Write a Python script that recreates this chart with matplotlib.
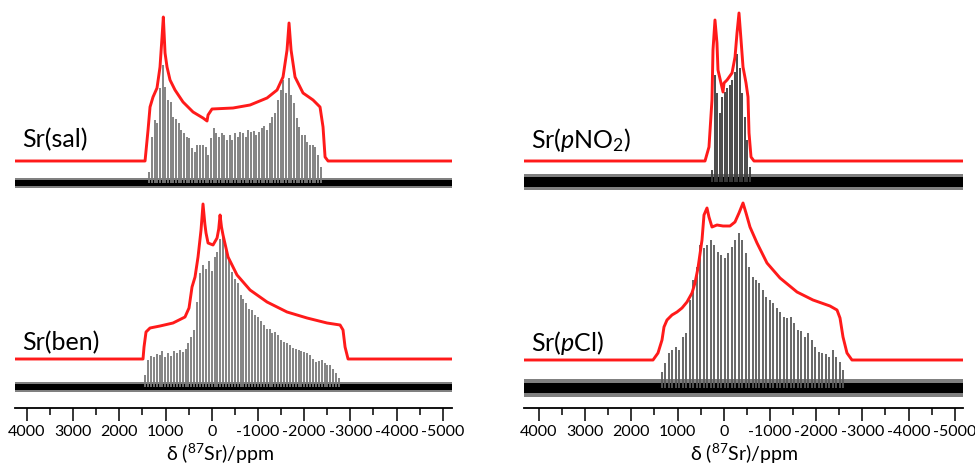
import matplotlib.pyplot as plt
import numpy as np

plt.rcParams['font.family'] = ['Lato', 'DejaVu Sans']
plt.rcParams['mathtext.fontset'] = 'custom'
plt.rcParams['mathtext.rm'] = 'Lato'
plt.rcParams['mathtext.it'] = 'Lato:italic'
plt.rcParams['axes.unicode_minus'] = False

# simulated lineshapes (shift in ppm, intensity)
sal_sim_ppm = [4260, 1445, 1380, 1337, 1272, 1186, 1121, 1077, 1049, 1012, 969, 904, 796,
               623, 406, 190, 103, 81, -5, -460, -828, -1196, -1413, -1542, -1629,
               -1672, -1716, -1802, -1975, -2192, -2343, -2408, -2452, -2517, -5200]
sal_sim_int = [0, 0, 31, 54, 64, 73, 94, 124, 144, 108, 94, 81, 71,
               59, 49, 43, 40, 46, 52, 53, 56, 63, 71, 84, 111,
               138, 111, 84, 68, 61, 54, 34, 4, 0, 0]

ben_sim_ppm = [4260, 1489, 1467, 1424, 1337, 1121, 839, 580, 493, 428, 363, 298, 233, 190,
               150, 125, 81, -27, -114, -150, -179, -210, -243, -352, -546, -828, -1196,
               -1629, -2062, -2495, -2777, -2841, -2885, -2950, -5200]
ben_sim_int = [0, 0, 12, 27, 31, 33, 36, 42, 51, 72, 82, 102, 129, 155,
               135, 126, 116, 114, 121, 130, 144, 132, 124, 102, 84, 69, 57,
               47, 41, 36, 34, 29, 12, 0, 0]

pno2_sim_ppm = [4320, 406, 320, 255, 233, 190, 147, 125, 60, 16, -6, -71, -179, -244,
                -287, -330, -374, -417, -482, -525, -547, -590, -655, -5180]
pno2_sim_int = [0, 0, 14, 61, 111, 141, 118, 91, 78, 69, 78, 81, 88, 104,
                128, 148, 121, 94, 78, 64, 28, 4, 0, 0]

pcl_sim_ppm = [4320, 1532, 1424, 1337, 1294, 1229, 1121, 1012, 904, 796, 688, 623, 558,
               471, 428, 363, 320, 255, 146, 16, -135, -243, -330, -417, -482, -568,
               -720, -936, -1218, -1586, -1932, -2300, -2452, -2517, -2582, -2668,
               -2776, -5180]
pcl_sim_int = [0, 0, 7, 20, 33, 40, 45, 48, 52, 58, 67, 77, 92,
               120, 145, 152, 143, 133, 135, 134, 134, 138, 147, 157, 147, 133,
               117, 97, 82, 68, 60, 54, 50, 42, 23, 7,
               0, 0]

# experimental spikelets: first / last spikelet shift and spikelet heights
sal_spk_range = (1353, -2357)
sal_spk_int = [11, 46, 63, 60, 95, 118, 96, 83, 81, 66, 64, 60, 53, 50, 46, 45, 35, 31,
               38, 38, 38, 36, 28, 45, 55, 50, 46, 50, 48, 43, 48, 43, 50, 46, 51, 50,
               46, 53, 51, 52, 48, 51, 55, 57, 53, 60, 66, 70, 83, 93, 103, 90, 105, 88,
               80, 65, 56, 48, 48, 41, 38, 38, 36, 28, 16]

ben_spk_range = (1445, -2755)
ben_spk_int = [12, 27, 31, 30, 33, 32, 36, 30, 34, 31, 36, 34, 37, 35, 38, 44, 50, 57,
               85, 114, 122, 118, 126, 116, 130, 135, 148, 152, 138, 128, 115, 108, 104,
               92, 88, 84, 78, 77, 72, 70, 66, 62, 58, 58, 54, 55, 52, 47, 45, 44, 42,
               39, 38, 37, 36, 35, 34, 32, 28, 25, 26, 27, 24, 22, 22, 18, 14, 9]

pno2_spk_range = (255, -568)
pno2_spk_int = [12, 107, 89, 69, 85, 90, 94, 97, 102, 110, 128, 114, 89, 65, 42, 15]

pcl_spk_range = (1337, -2582)
pcl_spk_int = [16, 25, 35, 38, 41, 38, 51, 55, 88, 108, 121, 143, 140, 143, 148, 143,
               136, 133, 130, 135, 141, 148, 155, 148, 135, 121, 111, 108, 105, 98, 91,
               88, 85, 80, 76, 71, 70, 71, 65, 58, 57, 51, 55, 48, 41, 36, 35, 34, 31,
               38, 31, 26, 18]

tick_major = [4000, 3000, 2000, 1000, 0, -1000, -2000, -3000, -4000, -5000]
tick_minor = [3500, 2500, 1500, 500, -500, -1500, -2500, -3500, -4500]

RED = '#ff1a1a'


def draw_pair(ax, sim_ppm, sim_int, spk_range, spk_int, noise, y_exp, y_sim, label, y_lab,
              spk_color):
    xmin, xmax = ax.get_xlim()
    # noise floor of the experimental trace
    ax.fill_between([xmin, xmax], y_exp - noise, y_exp + noise, color='#2b2b2b',
                    alpha=0.6, lw=0)
    ax.fill_between([xmin, xmax], y_exp - noise * 0.6, y_exp + noise * 0.6,
                    color='black', lw=0)
    pos = np.linspace(spk_range[0], spk_range[1], len(spk_int))
    ax.vlines(pos, y_exp, y_exp + np.array(spk_int), color=spk_color, lw=1.3)
    ax.plot(sim_ppm, np.array(sim_int) + y_sim, color=RED, lw=2.1,
            solid_joinstyle='round')
    ax.text(xmin - 0.016 * (xmin - xmax), y_lab, label, fontsize=18,
            ha='left', va='center')


fig = plt.figure(figsize=(9.75, 4.68), dpi=100)
ax_l = fig.add_axes([15 / 975, 60 / 468, 437 / 975, 408 / 468])
ax_r = fig.add_axes([524 / 975, 60 / 468, 439 / 975, 408 / 468])

for ax, lim in ((ax_l, (4260, -5200)), (ax_r, (4325, -5180))):
    ax.set_xlim(*lim)
    ax.set_ylim(0, 408)
    for s in ('top', 'left', 'right'):
        ax.spines[s].set_visible(False)
    ax.spines['bottom'].set_linewidth(1.3)
    ax.set_yticks([])
    ax.set_xticks(tick_major)
    ax.set_xticks(tick_minor, minor=True)
    ax.set_xticklabels([str(t) for t in tick_major], fontsize=11.5)
    ax.tick_params(axis='x', which='major', length=9, width=1.1, pad=3)
    ax.tick_params(axis='x', which='minor', length=5, width=1.1)
    ax.set_xlabel(r'δ ($^{87}$Sr)/ppm', fontsize=14, labelpad=2)
    ax.patch.set_alpha(0)

ax_l.xaxis.set_label_coords(0.47, -0.082)
ax_r.xaxis.set_label_coords(0.5, -0.082)

draw_pair(ax_l, sal_sim_ppm, sal_sim_int, sal_spk_range, sal_spk_int, 5, 225, 247,
          'Sr(sal)', 268, '#7a7a7a')
draw_pair(ax_l, ben_sim_ppm, ben_sim_int, ben_spk_range, ben_spk_int, 5, 21, 49,
          'Sr(ben)', 65, '#7a7a7a')
draw_pair(ax_r, pno2_sim_ppm, pno2_sim_int, pno2_spk_range, pno2_spk_int, 8, 226, 247,
          r'Sr($\it{p}$NO$_2$)', 268, '#3c3c3c')
draw_pair(ax_r, pcl_sim_ppm, pcl_sim_int, pcl_spk_range, pcl_spk_int, 9, 20, 48,
          r'Sr($\it{p}$Cl)', 65, '#5a5a5a')

fig.savefig('out.png', dpi=100)
